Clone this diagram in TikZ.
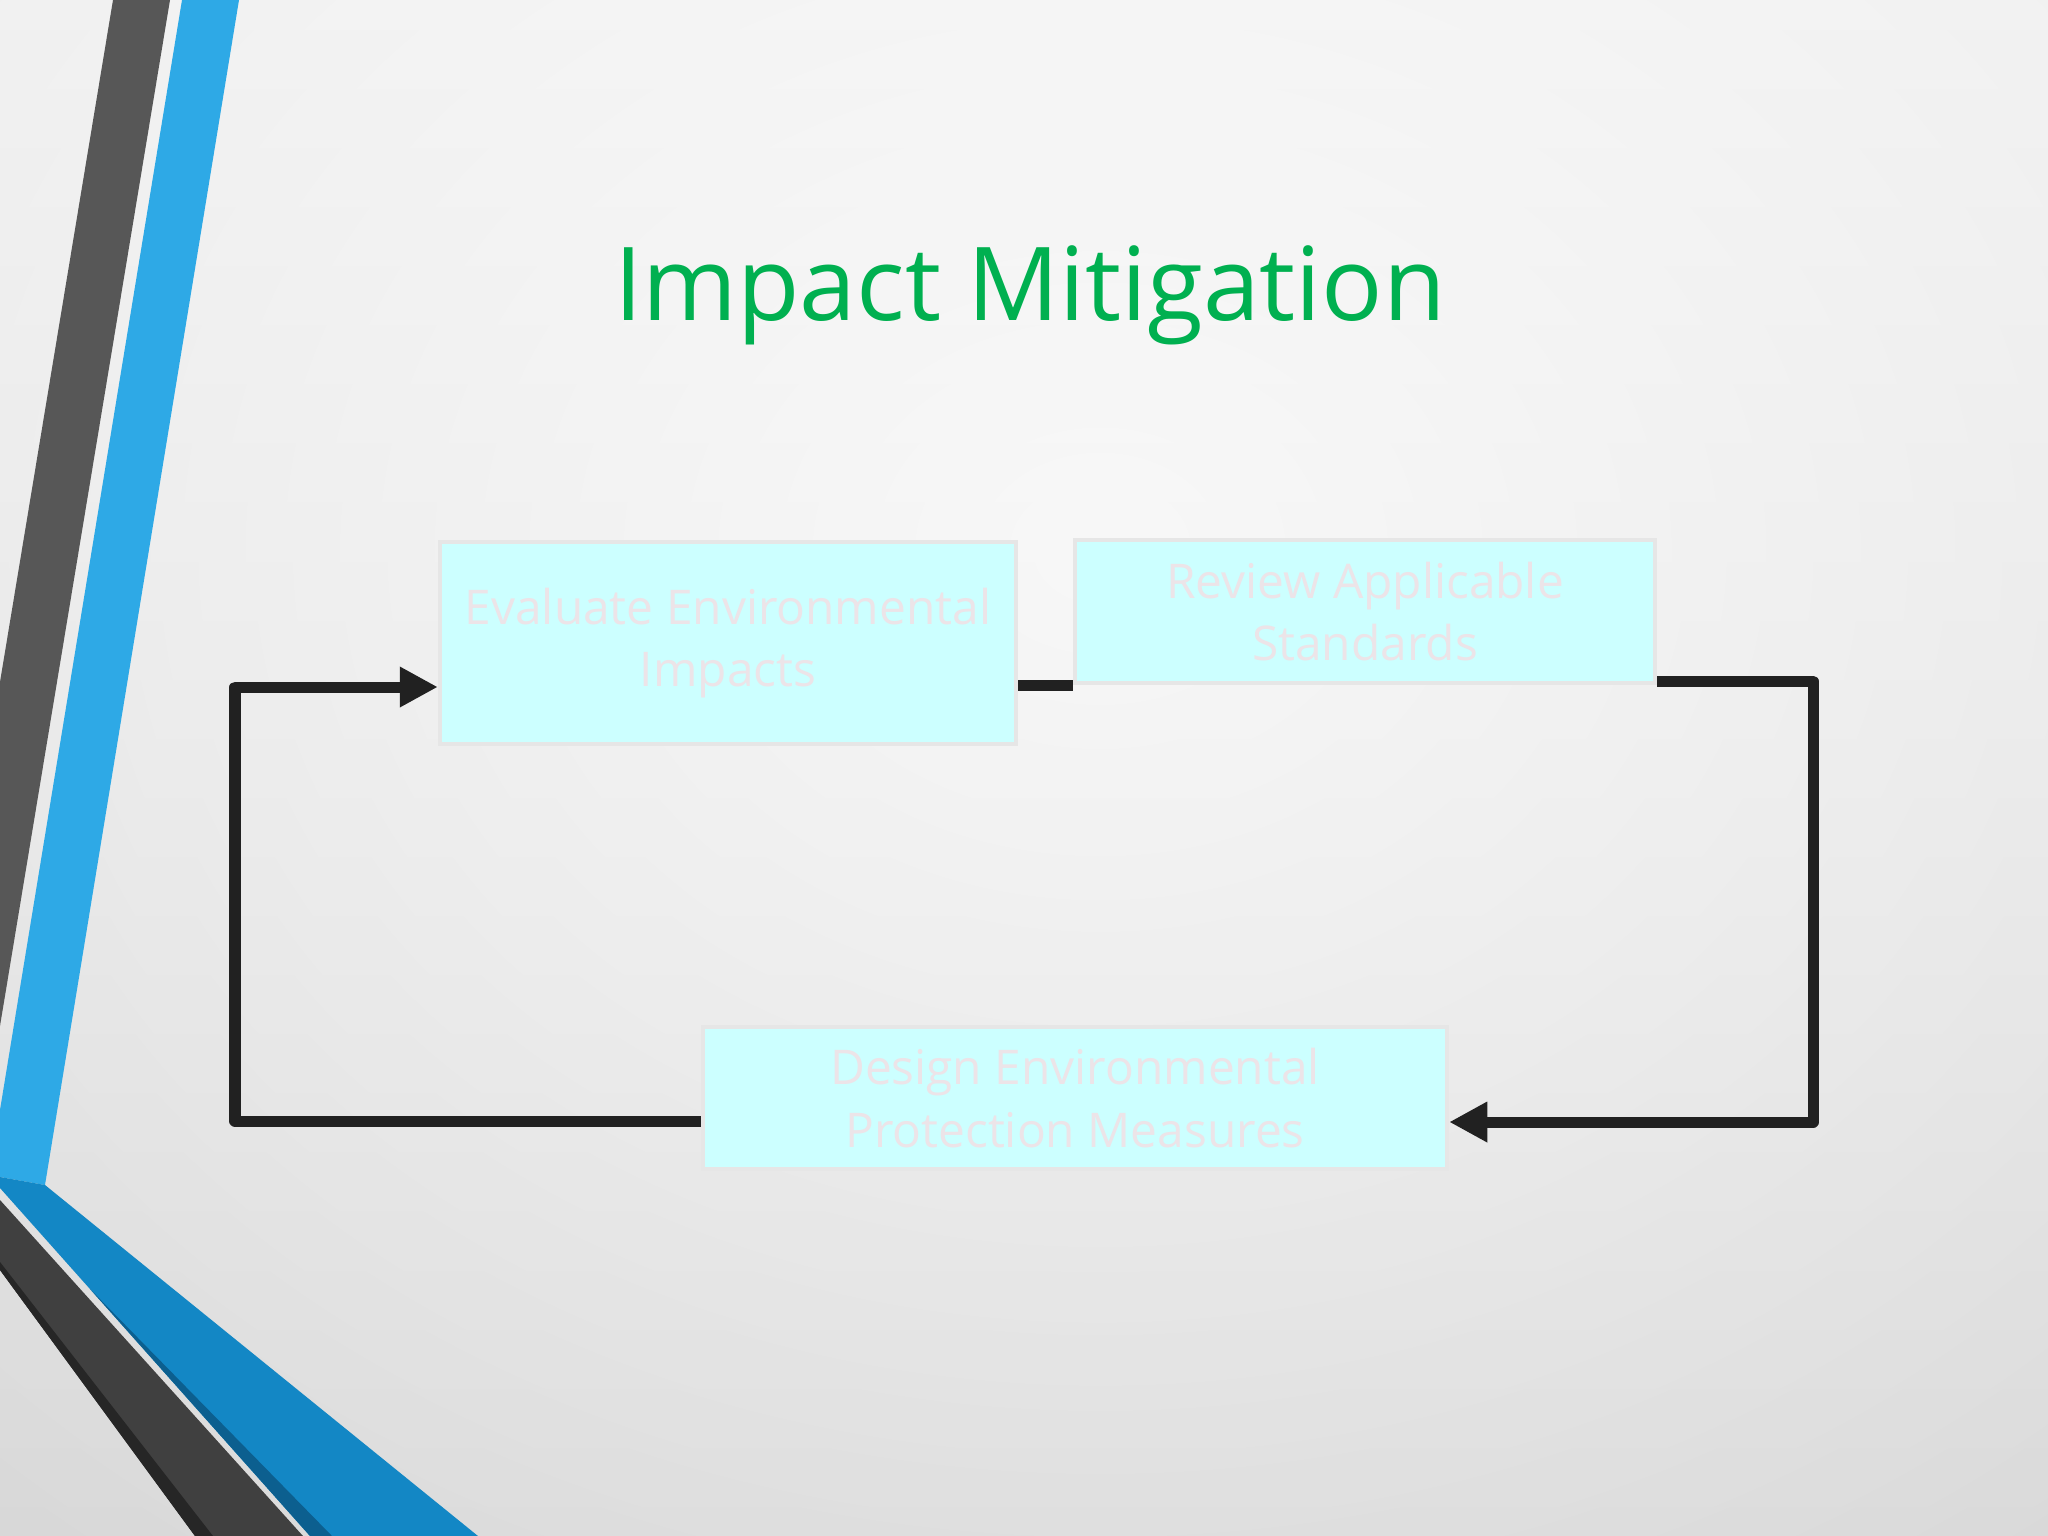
\documentclass[tikz,border=0pt]{standalone}
\usepackage{fontspec}
\setmainfont{Open Sans}
\usetikzlibrary{arrows.meta, calc, positioning, fadings}

\definecolor{bgtop}{HTML}{ECECEC}
\definecolor{bgbottom}{HTML}{D2D2D2}
\definecolor{stripegray}{HTML}{575757}
\definecolor{stripeblue}{HTML}{2EA9E6}
\definecolor{bandblue}{HTML}{1387C5}
\definecolor{bandblueedge}{HTML}{0C5F8F}
\definecolor{bandgray}{HTML}{404040}
\definecolor{bandgrayedge}{HTML}{262626}
\definecolor{titlegreen}{HTML}{00B050}
\definecolor{boxcyan}{HTML}{CCFFFF}
\definecolor{boxedge}{HTML}{E6E6E6}
\definecolor{boxtext}{HTML}{ECE4E8}
\definecolor{flowline}{HTML}{212121}

\tikzfading[name=glow, inner color=transparent!0, outer color=transparent!100]

\begin{document}
\begin{tikzpicture}[x=0.01cm, y=-0.01cm,
	stepbox/.style={draw=boxedge, line width=0.04cm, fill=boxcyan, text=boxtext, align=center, inner sep=0pt, font=\fontsize{13.6}{17.8}\selectfont},
	link/.style={draw=flowline, line width=0.11cm},
	flow/.style={link, line join=round, -{Triangle[length=0.38cm, width=0.38cm]}}]
	\useasboundingbox (0,0) rectangle (2048,1536);

	% background
	\shade[top color=bgtop, bottom color=bgbottom] (0,0) rectangle (2048,1536);
	\begin{scope}
		\clip (0,0) rectangle (2048,1536);
		\fill[white, opacity=0.75, path fading=glow] (1100,550) ellipse [x radius=20cm, y radius=16cm];
	\end{scope}

	% stripes on the left
	\fill[stripegray] (113,0) -- (170,0) -- (0,1026) -- (0,682) -- cycle;
	\fill[stripeblue] (182,0) -- (239,0) -- (45,1185) -- (0,1177) -- (0,1110) -- cycle;
	\fill[bandblue] (0,1177) -- (45,1185) -- (478,1536) -- (310,1536) -- (0,1188) -- cycle;
	\fill[bandblueedge] (90,1289) -- (332,1536) -- (310,1536) -- cycle;
	\fill[bandgray] (0,1200) -- (303,1536) -- (195,1536) -- (0,1270) -- cycle;
	\fill[bandgrayedge] (0,1262) -- (213,1536) -- (195,1536) -- (0,1270) -- cycle;

	\node[text=titlegreen, font=\fontsize{29}{35}\selectfont, anchor=base] (title) at (1030,320) {Impact Mitigation};

	\node[stepbox, minimum width=5.76cm, minimum height=2.02cm] (eval) at (728,643) {Evaluate Environmental\\Impacts};
	\node[stepbox, minimum width=5.80cm, minimum height=1.43cm] (review) at (1365,611.5) {Review Applicable\\Standards};
	\node[stepbox, minimum width=7.44cm, minimum height=1.42cm] (design) at (1075,1098) {Design Environmental\\Protection Measures};

	\coordinate (rc) at (1813,1122);
	\coordinate (lc) at (235,687);

	\draw[link] (eval.east |- review.south) -- (review.south west);
	\draw[flow] ($(review.south east)+(0,-4)$) -| (rc) -- ($(design.east)+(0,24)$);
	\draw[flow] ($(design.west)+(0,23)$) -| (lc) -- ($(eval.west)+(0,44)$);

\end{tikzpicture}
\end{document}
